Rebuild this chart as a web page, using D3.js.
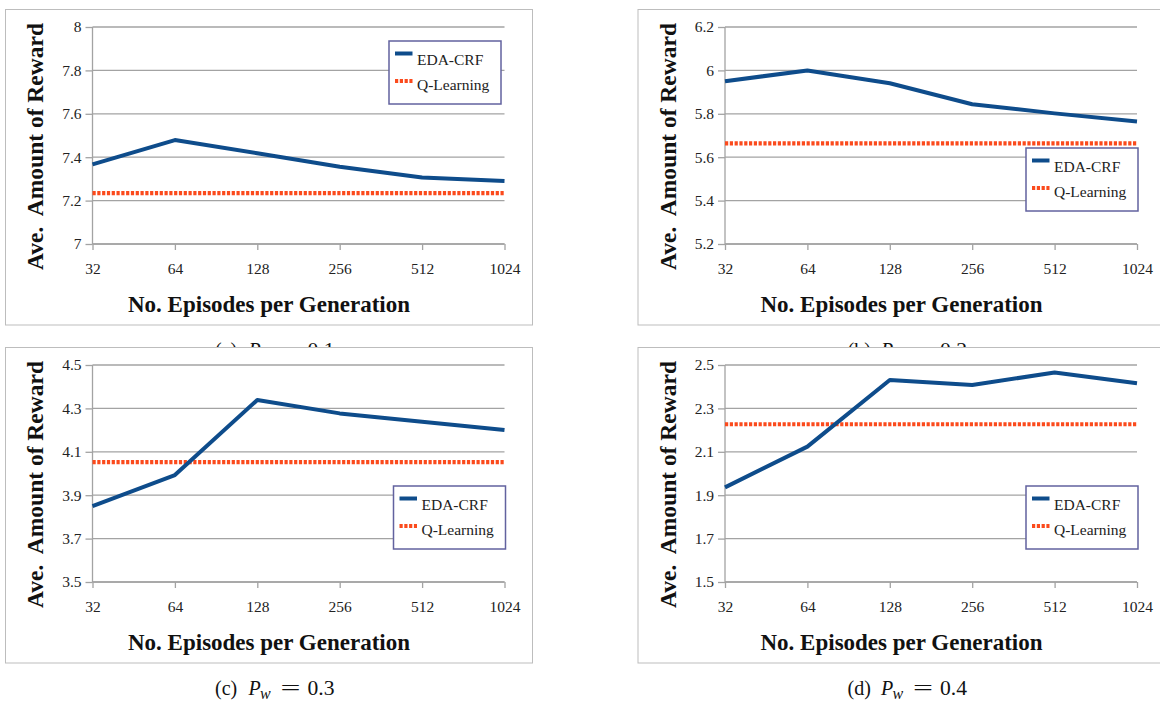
<!DOCTYPE html>
<html>
<head>
<meta charset="utf-8">
<script src="https://cdn.jsdelivr.net/npm/d3@7"></script>
<style>
  body { margin: 0; background: #fff; }
  svg { display: block; }
</style>
</head>
<body>
<div id="chart"></div>
<script>
// Categories and series
const episodes = ["32", "64", "128", "256", "512", "1024"];

const edaCrfA = [7.367, 7.479, 7.418, 7.356, 7.306, 7.29];
const qLearnA = [7.234, 7.234, 7.234, 7.234, 7.234, 7.234];
const yTicksA = [7, 7.2, 7.4, 7.6, 7.8, 8];

const edaCrfB = [5.95, 6.0, 5.941, 5.844, 5.802, 5.765];
const qLearnB = [5.664, 5.664, 5.664, 5.664, 5.664, 5.664];
const yTicksB = [5.2, 5.4, 5.6, 5.8, 6, 6.2];

const edaCrfC = [3.85, 3.993, 4.339, 4.277, 4.239, 4.2];
const qLearnC = [4.052, 4.052, 4.052, 4.052, 4.052, 4.052];
const yTicksC = [3.5, 3.7, 3.9, 4.1, 4.3, 4.5];

const edaCrfD = [1.936, 2.124, 2.431, 2.408, 2.465, 2.416];
const qLearnD = [2.227, 2.227, 2.227, 2.227, 2.227, 2.227];
const yTicksD = [1.5, 1.7, 1.9, 2.1, 2.3, 2.5];

const seriesNames = ["EDA-CRF", "Q-Learning"];
const captionLetters = ["(a)", "(b)", "(c)", "(d)"];
const captionValues = ["0.1", "0.2", "0.3", "0.4"];

const colors = { eda: "#0e4c8b", q: "#fb4a1c" };
const serif = "'Liberation Serif', 'DejaVu Serif', serif";

// Panel layout (frame origin, legend placement)
const panels = [
    { fx: 5.5, fy: 9.5, eda: edaCrfA, q: qLearnA, ticks: yTicksA, legX: -115.5, legY: 14, cap: 0 },
    { fx: 638, fy: 9.5, eda: edaCrfB, q: qLearnB, ticks: yTicksB, legX: -111, legY: 121, cap: 1 },
    { fx: 5.5, fy: 347.5, eda: edaCrfC, q: qLearnC, ticks: yTicksC, legX: -111, legY: 121, cap: 2 },
    { fx: 638, fy: 347.5, eda: edaCrfD, q: qLearnD, ticks: yTicksD, legX: -111, legY: 121, cap: 3 }
];

const W = 1160, H = 703;
const frameW = 527, frameH = 315.5;
const margin = { left: 87, top: 17.5 };
const plotW = 412, plotH = 217;

const svg = d3.select("#chart")
    .append("svg")
    .attr("width", W)
    .attr("height", H)
    .style("font-family", serif);

function drawCaption(p) {
    const g = svg.append("g")
        .attr("transform", `translate(${p.fx + 209.5},${p.fy + frameH + 32})`)
        .style("font-family", serif)
        .style("font-size", "20px")
        .attr("fill", "#111");
    g.append("text").attr("x", 0).text(captionLetters[p.cap]);
    g.append("text").attr("x", 33.5).style("font-style", "italic").text("P");
    g.append("text").attr("x", 45).attr("y", 4).style("font-style", "italic")
        .style("font-size", "16px").text("w");
    g.append("text").attr("x", 65.5).attr("y", -0.5)
        .attr("textLength", 20).attr("lengthAdjust", "spacingAndGlyphs").text("=");
    g.append("text").attr("x", 92.5)
        .attr("textLength", 27).attr("lengthAdjust", "spacingAndGlyphs").text(captionValues[p.cap]);
}

function drawPanel(p) {
    const g = svg.append("g").attr("transform", `translate(${p.fx},${p.fy})`);

    // Outer frame (white so it covers captions beneath)
    g.append("rect")
        .attr("width", frameW)
        .attr("height", frameH)
        .attr("fill", "#fff")
        .attr("stroke", "#bdbdbd")
        .attr("stroke-width", 1);

    const plot = g.append("g").attr("transform", `translate(${margin.left},${margin.top})`);

    const x = d3.scalePoint().domain(episodes).range([0, plotW]).padding(0);
    const y = d3.scaleLinear().domain([p.ticks[0], p.ticks[p.ticks.length - 1]]).range([plotH, 0]);

    // Gridlines
    plot.selectAll(".grid")
        .data(p.ticks)
        .enter()
        .append("line")
        .attr("x1", 0)
        .attr("x2", plotW)
        .attr("y1", d => y(d))
        .attr("y2", d => y(d))
        .attr("stroke", "#a3a3a3")
        .attr("stroke-width", 1.3);

    // Axes
    const yAxis = d3.axisLeft(y).tickValues(p.ticks).tickSize(7).tickPadding(4)
        .tickFormat(d => String(+d.toFixed(1)));
    const xAxis = d3.axisBottom(x).tickSize(6).tickPadding(13);

    const ya = plot.append("g").call(yAxis);
    const xa = plot.append("g").attr("transform", `translate(0,${plotH})`).call(xAxis);

    [ya, xa].forEach(a => {
        a.attr("font-family", null).attr("font-size", null);
        a.select(".domain").attr("stroke", "#a3a3a3").attr("stroke-width", 1.3);
        a.selectAll(".tick line").attr("stroke", "#a3a3a3").attr("stroke-width", 1.3);
        a.selectAll("text")
            .attr("fill", "#222")
            .style("font-family", serif)
            .style("font-size", "15.5px");
    });
    ya.select(".domain").attr("d", `M0,${plotH}V0`);
    xa.select(".domain").attr("d", `M0,0H${plotW}`);

    // Series
    const line = d3.line()
        .x((d, i) => x(episodes[i]))
        .y(d => y(d));

    plot.append("path")
        .datum(p.q)
        .attr("fill", "none")
        .attr("stroke", colors.q)
        .attr("stroke-width", 4.2)
        .attr("stroke-dasharray", "3.2,1.6")
        .attr("d", line);

    plot.append("path")
        .datum(p.eda)
        .attr("fill", "none")
        .attr("stroke", colors.eda)
        .attr("stroke-width", 4)
        .attr("stroke-linejoin", "round")
        .attr("d", line);

    // Axis titles
    g.append("text")
        .attr("x", frameW / 2)
        .attr("y", 302)
        .attr("text-anchor", "middle")
        .style("font-family", serif)
        .style("font-weight", "bold")
        .style("font-size", "23px")
        .attr("fill", "#111")
        .text("No. Episodes per Generation");

    g.append("text")
        .attr("transform", `translate(37.5,137) rotate(-90)`)
        .attr("text-anchor", "middle")
        .style("font-family", serif)
        .style("font-weight", "bold")
        .style("font-size", "23.5px")
        .style("white-space", "pre")
        .attr("fill", "#111")
        .text("Ave.  Amount of Reward");

    // Legend
    const leg = plot.append("g").attr("transform", `translate(${plotW + p.legX},${p.legY})`);
    leg.append("rect")
        .attr("width", 112)
        .attr("height", 63)
        .attr("fill", "#fff")
        .attr("stroke", "#62629f")
        .attr("stroke-width", 1.5);

    seriesNames.forEach((name, i) => {
        leg.append("line")
            .attr("x1", 6)
            .attr("x2", 23.5)
            .attr("y1", 12.5 + i * 27.5)
            .attr("y2", 12.5 + i * 27.5)
            .attr("stroke", i === 0 ? colors.eda : colors.q)
            .attr("stroke-width", i === 0 ? 4 : 4.2)
            .attr("stroke-dasharray", i === 0 ? null : "3.2,1.6");
        leg.append("text")
            .attr("x", 28)
            .attr("y", 24 + i * 24.5)
            .style("font-family", serif)
            .style("font-size", "15.5px")
            .attr("fill", "#222")
            .text(name);
    });
}

// Top row, then captions a/b, then bottom row drawn over them
drawPanel(panels[0]);
drawPanel(panels[1]);
drawCaption(panels[0]);
drawCaption(panels[1]);
drawPanel(panels[2]);
drawPanel(panels[3]);
drawCaption(panels[2]);
drawCaption(panels[3]);
</script>
</body>
</html>
